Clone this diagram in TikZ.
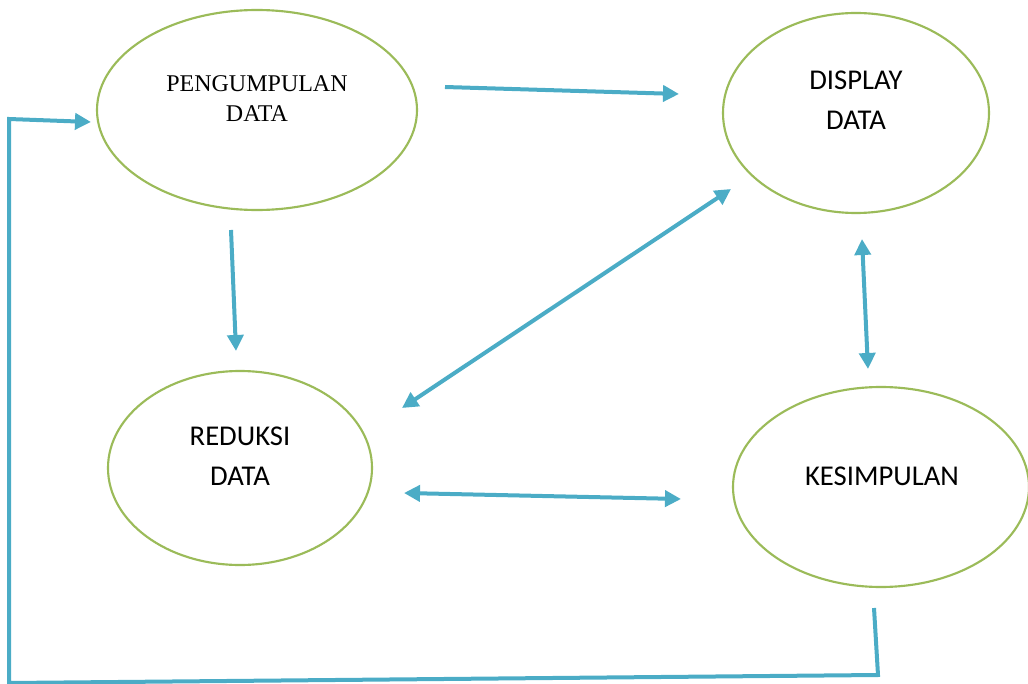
\documentclass[tikz,border=0pt]{standalone}
\usepackage{fontspec}
\setmainfont{Carlito}
\newfontfamily\timesfont{Liberation Serif}
\usepackage{xcolor}
\usepackage{tikz}
\usetikzlibrary{positioning, arrows.meta, calc, shapes.geometric}
\definecolor{flowblue}{HTML}{4BACC6}
\definecolor{ovalgreen}{HTML}{9BBB59}

\begin{document}
\begin{tikzpicture}[x=0.75pt, y=-0.75pt,
    oval/.style={draw=ovalgreen, line width=1.6pt, ellipse, inner sep=0pt},
    flow/.style={draw=flowblue, line width=3pt, -{Triangle[length=12pt, width=12pt]}},
    bothflow/.style={flow, {Triangle[length=12pt, width=12pt]}-{Triangle[length=12pt, width=12pt]}},
    label/.style={align=center, font=\fontsize{21.5}{30}\selectfont}]
    \useasboundingbox (0,0) rectangle (1028,684);

    % the four stages
    \node[oval, minimum width=240pt, minimum height=150pt] (peng) at (257,110) {};
    \node[oval, minimum width=199.5pt, minimum height=150pt] (disp) at (856,113) {};
    \node[oval, minimum width=198pt, minimum height=145.5pt] (red) at (240,468) {};
    \node[oval, minimum width=222pt, minimum height=150pt] (kes) at (881,487) {};

    \node[align=center, font=\timesfont\fontsize{18}{22.5}\selectfont] (peng-txt) at (257,99) {PENGUMPULAN\\DATA};
    \node[label] (disp-txt) at (856,100) {DISPLAY\\DATA};
    \node[label] (red-txt) at (240,456) {REDUKSI\\DATA};
    \node[label] (kes-txt) at (882,476) {KESIMPULAN};

    % arrow ends
    \coordinate (peng-e) at (445,87);
    \coordinate (disp-w) at (679,94);
    \coordinate (peng-s) at (231,230);
    \coordinate (red-n) at (236,351);
    \coordinate (red-ne) at (402,408);
    \coordinate (disp-sw) at (731,189);
    \coordinate (red-e) at (404,493);
    \coordinate (kes-w) at (681,499);
    \coordinate (disp-s) at (862,239);
    \coordinate (kes-n) at (868,369);
    \coordinate (kes-s) at (874,608);
    \coordinate (peng-w) at (91,122);

    \draw[flow] (peng-e) -- (disp-w);
    \draw[flow] (peng-s) -- (red-n);
    \draw[bothflow] (red-ne) -- (disp-sw);
    \draw[bothflow] (red-e) -- (kes-w);
    \draw[bothflow] (disp-s) -- (kes-n);
    \draw[flow] (kes-s) -- (878,675) -- (9,683) -- (9,119) -- (peng-w);
\end{tikzpicture}
\end{document}
